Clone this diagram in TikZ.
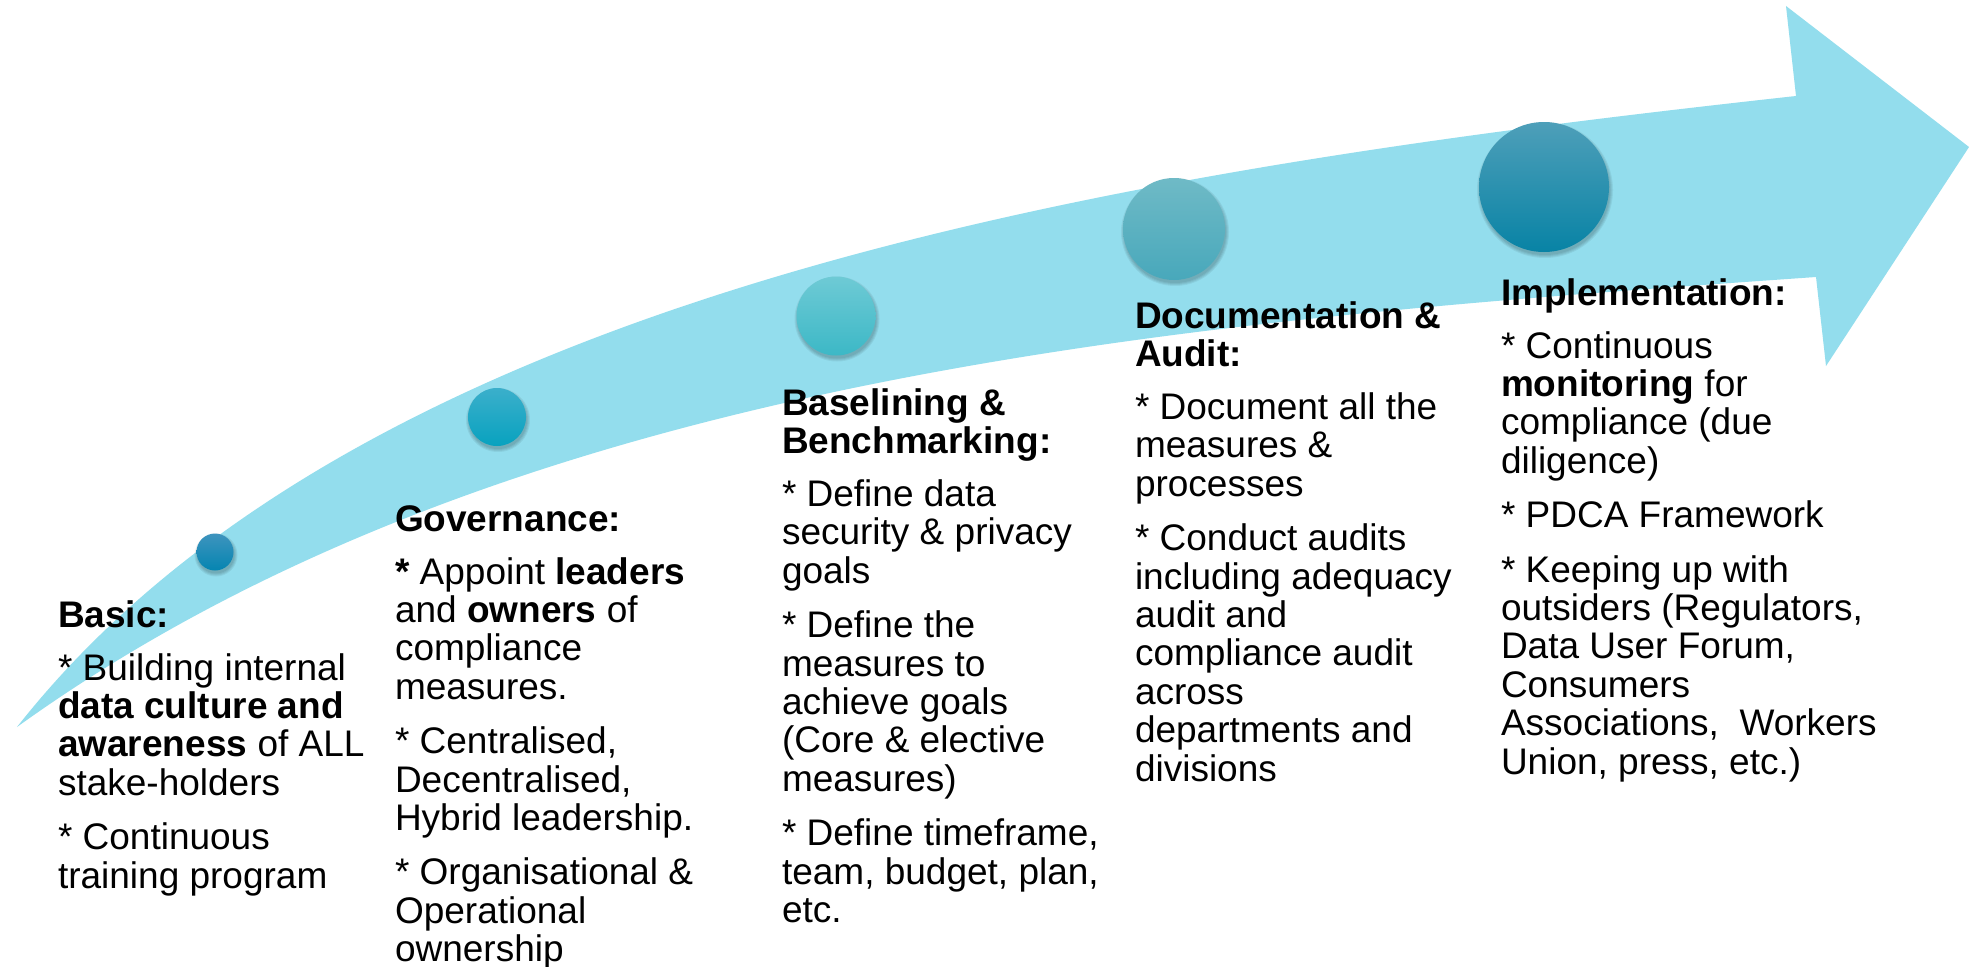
\documentclass[tikz,border=0pt]{standalone}
\usepackage{fontspec}
\setmainfont{Liberation Sans}
\definecolor{arrowc}{HTML}{93DDED}
\definecolor{aT}{HTML}{3E94BE}\definecolor{aB}{HTML}{0585B1}
\definecolor{bT}{HTML}{3BAFCB}\definecolor{bB}{HTML}{08A2BF}
\definecolor{cT}{HTML}{6ECAD5}\definecolor{cB}{HTML}{3CB8C6}
\definecolor{dT}{HTML}{6FBAC6}\definecolor{dB}{HTML}{48A8BB}
\definecolor{eT}{HTML}{4E9FB9}\definecolor{eB}{HTML}{0883A5}
\newcommand{\stepshadow}[3]{%
  \foreach \k in {0,1,2,3}{\fill[black,opacity=0.06] (#1+1,#2+3) circle[radius={(#3+\k)*1pt}];}}
\newcommand{\txtfont}{\fontsize{37}{38.4}\selectfont}
\begin{document}
\begin{tikzpicture}[x=1pt,y=-1pt,
  ball/.style={circle,inner sep=0pt,draw=none},
  txt/.style={anchor=base west,inner sep=0pt,outer sep=0pt}]
\useasboundingbox (0,0) rectangle (1969,966);
\fill[white] (0,0) rectangle (1969,966);
% arrow
\fill[arrowc] (17,727) .. controls (367,282) and (1146,167.5) .. (1796,96)
  -- (1786,6) -- (1969,147) -- (1826,366) -- (1816,277)
  .. controls (1216,319) and (517,367) .. (17,727) -- cycle;
% shadows
\stepshadow{215}{552}{18.5}
\stepshadow{497}{417}{29}
\stepshadow{836}{316}{39.5}
\stepshadow{1174}{229}{51}
\stepshadow{1544}{187}{65}
% balls
\node[ball,minimum size=37pt,top color=aT,bottom color=aB] (c1) at (215,552) {};
\node[ball,minimum size=58pt,top color=bT,bottom color=bB] (c2) at (497,417) {};
\node[ball,minimum size=79pt,top color=cT,bottom color=cB] (c3) at (836,316) {};
\node[ball,minimum size=102pt,top color=dT,bottom color=dB] (c4) at (1174,229) {};
\node[ball,minimum size=130pt,top color=eT,bottom color=eB] (c5) at (1544,187) {};
% texts
\node[txt] (basic) at (58,627) {\begin{minipage}[t]{420pt}\txtfont
\textbf{Basic:}\\[14.6pt]
* Building internal\\
\textbf{data culture and}\\
\textbf{awareness} of ALL\\
stake-holders\\[16pt]
* Continuous\\
training program\end{minipage}};
\node[txt] (gov) at (395,531) {\begin{minipage}[t]{420pt}\txtfont
\textbf{Governance:}\\[14.6pt]
\textbf{*} Appoint \textbf{leaders}\\
and \textbf{owners} of\\
compliance\\
measures.\\[16pt]
* Centralised,\\
Decentralised,\\
Hybrid leadership.\\[16pt]
* Organisational \&\\
Operational\\
ownership\end{minipage}};
\node[txt] (bench) at (782,415) {\begin{minipage}[t]{420pt}\txtfont
\textbf{Baselining \&}\\
\textbf{Benchmarking:}\\[14.6pt]
* Define data\\
security \& privacy\\
goals\\[16pt]
* Define the\\
measures to\\
achieve goals\\
(Core \& elective\\
measures)\\[16pt]
* Define timeframe,\\
team, budget, plan,\\
etc.\end{minipage}};
\node[txt] (doc) at (1135,328) {\begin{minipage}[t]{420pt}\txtfont
\textbf{Documentation \&}\\
\textbf{Audit:}\\[14.6pt]
* Document all the\\
measures \&\\
processes\\[16pt]
* Conduct audits\\
including adequacy\\
audit and\\
compliance audit\\
across\\
departments and\\
divisions\end{minipage}};
\node[txt] (impl) at (1501,305) {\begin{minipage}[t]{460pt}\txtfont
\textbf{Implementation:}\\[14.6pt]
* Continuous\\
\textbf{monitoring} for\\
compliance (due\\
diligence)\\[16pt]
* PDCA Framework\\[16pt]
* Keeping up with\\
outsiders (Regulators,\\
Data User Forum,\\
Consumers\\
Associations,\ \ Workers\\
Union, press, etc.)\end{minipage}};
\end{tikzpicture}
\end{document}
